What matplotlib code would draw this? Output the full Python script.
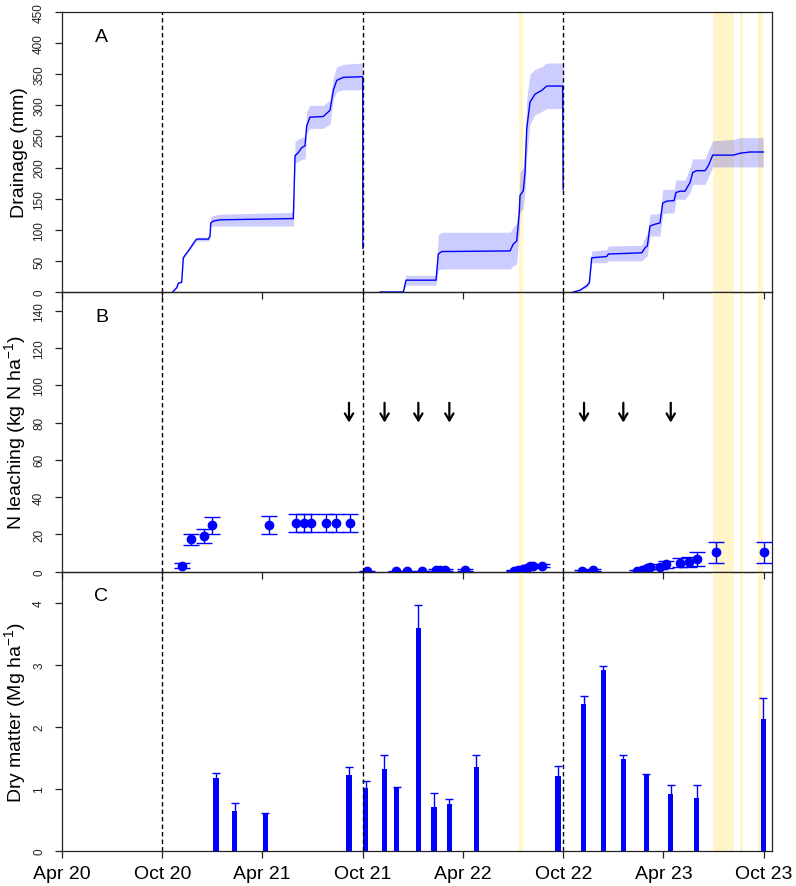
import numpy as np
import matplotlib
matplotlib.use("Agg")
import matplotlib.pyplot as plt
import matplotlib.dates as mdates

plt.rcParams['font.family'] = ['Liberation Sans', 'DejaVu Sans']
plt.rcParams['mathtext.fontset'] = 'custom'
plt.rcParams['mathtext.rm'] = 'Liberation Sans'
plt.rcParams['mathtext.it'] = 'Liberation Sans:italic'
plt.rcParams['mathtext.bf'] = 'Liberation Sans:bold'

# ---------------- data (x values: days since 2020-04-01) ----------------
START = '2020-04-01'

# Panel A: cumulative drainage (mm), mean with lower/upper band, per season
drain1_day = [202, 209.3, 212.2, 218.4, 221.3, 224.4, 230.4, 236.6, 242.6, 245.7, 266.8, 269.9, 271.2,
              275.9, 288.1, 421.5, 424.6, 430.6, 436.7, 442.8, 445.8, 451.8, 476, 488.2, 494.3, 500.4,
              512.5, 547.8, 548]
drain1_mean = [0, 7, 14, 16, 55, 59, 66, 74, 82, 85, 85, 90, 111, 114, 116, 118, 219, 224, 232, 235,
               267, 281, 282, 292, 324, 340, 345, 346, 70]
drain1_lo = [0, 6, 13, 15, 53, 57, 64, 72, 79, 82, 82, 86, 104, 106, 106, 106, 207, 210, 213, 214,
             255, 263, 263, 270, 310, 322, 325, 325, 325]
drain1_hi = [0, 8, 15, 17, 57, 61, 68, 77, 85, 88, 88, 94, 120, 123, 125, 128, 242, 246, 248, 250,
             290, 300, 300, 308, 345, 362, 366, 368, 368]

drain2_day = [579.2, 621.7, 626.6, 681.2, 685.3, 691.5, 815.8, 821.8, 828, 832.7, 834, 840, 843.1,
              846.2, 852.2, 861.3, 873.5, 882.6, 911.7, 912.5]
drain2_mean = [0, 0, 19, 19, 61, 65, 66, 77, 82, 128, 155, 163, 192, 262, 305, 318, 324, 331, 331, 165]
drain2_lo = [0, 0, 11, 11, 35, 37, 37, 42, 45, 100, 128, 135, 160, 220, 270, 285, 290, 295, 295, 295]
drain2_hi = [0, 0, 27, 27, 92, 96, 96, 104, 110, 160, 192, 200, 235, 310, 350, 358, 362, 368, 368, 368]

drain3_day = [931, 943.2, 955.4, 960.1, 964.5, 991.8, 994.7, 1055.5, 1061.5, 1065.7, 1070.6, 1079.7,
              1088.8, 1093.7, 1101, 1114.3, 1117.9, 1125.2, 1134.3, 1143.4, 1148.3, 1155.6, 1170.7,
              1176.7, 1184.7, 1222.2, 1234.3, 1252.5, 1276.8]
drain3_mean = [0, 3, 10, 15, 55, 57, 61, 63, 71, 74, 106, 109, 111, 143, 146, 147, 160, 162, 162, 176,
               192, 195, 195, 203, 220, 220, 223, 225, 225]
drain3_lo = [0, 2, 7, 11, 47, 47, 50, 50, 55, 58, 90, 90, 90, 125, 127, 127, 149, 149, 149, 160, 173,
             173, 173, 185, 201, 201, 201, 201, 201]
drain3_hi = [0, 4, 13, 20, 66, 68, 74, 75, 88, 95, 125, 125, 127, 165, 165, 165, 180, 180, 180, 200,
             214, 214, 214, 228, 243, 245, 248, 248, 248]

# Panel B: cumulative N leaching (kg N/ha) with error
leach_day = [219.5, 235.8, 259, 274, 376.7, 425.8, 441.5, 453.7, 481, 498.6, 524.6,
             556.1, 608.4, 627.8, 655.7, 681.1, 688.4, 697.5, 734.5, 823.1, 830.9, 840, 846.2, 852.2,
             858.2, 874.6,
             946.3, 966.3, 1046.4, 1055.5, 1064.6, 1070.6, 1088.8, 1099.1, 1125.2, 1141.6, 1155.6,
             1190.1, 1278]
leach_val = [3.2, 17.4, 19.2, 24.9, 25.0, 26.0, 26.0, 26.3, 26.0, 26.3, 26.3,
             0.3, 0.3, 0.3, 0.3, 0.7, 0.9, 0.7, 0.8, 0.6, 1.0, 1.5, 2.2, 2.8, 3.0, 3.3,
             0.4, 0.9, 0.5, 0.9, 1.8, 2.3, 2.7, 3.9, 4.8, 5.3, 6.6, 10.3, 10.3]
leach_err = [1.4, 3.0, 3.8, 4.7, 4.8, 4.8, 4.8, 4.8, 4.9, 4.9, 4.9,
             0.3, 0.3, 0.3, 0.3, 0.5, 0.5, 0.5, 0.5, 0.4, 0.5, 0.6, 0.7, 0.7, 0.7, 0.7,
             0.3, 0.4, 0.4, 0.5, 0.6, 0.8, 1.2, 1.8, 2.5, 2.8, 3.8, 5.6, 5.8]

# Arrows (events) in panel B
arrow_day = [522.8, 587.5, 649, 705.4, 950.5, 1022, 1108.3]
arrow_top, arrow_bottom = 90.6, 80

# Panel C: dry matter (Mg/ha) with upper error
dm_day = [280.8, 314.8, 370.5, 522.8, 553.2, 587, 609.6, 648.9, 677.5, 705.3, 754.5, 903.2, 949.9,
          985.6, 1022, 1063.8, 1108.3, 1155.6, 1276.8]
dm_val = [1.17, 0.64, 0.61, 1.22, 1.02, 1.32, 1.02, 3.60, 0.71, 0.76, 1.35, 1.21, 2.37, 2.92, 1.49,
          1.23, 0.92, 0.85, 2.13]
dm_err = [0.08, 0.13, 0.01, 0.13, 0.11, 0.23, 0.01, 0.36, 0.23, 0.08, 0.19, 0.16, 0.13, 0.06, 0.06,
          0.01, 0.15, 0.22, 0.34]

# Shaded (yellow) periods, day ranges
shade_start = [832.7, 1184.6, 1234.3, 1267.1]
shade_end = [838.9, 1223.3, 1239.3, 1276.8]

# Season boundaries (dashed lines)
season_day = [183, 548, 913]

# X ticks
tick_day = [0, 183, 365, 548, 730, 913, 1095, 1278]
tick_labels = ['Apr 20', 'Oct 20', 'Apr 21', 'Oct 21', 'Apr 22', 'Oct 22', 'Apr 23', 'Oct 23']
x_end_day = 1292

# ---------------- plotting ----------------
X0 = mdates.date2num(np.datetime64(START))


def xd(days):
    return X0 + np.asarray(days, dtype=float)


BLUE = '#0000FF'
YELLOW = '#FFF5C8'

fig = plt.figure(figsize=(7.96, 8.87), dpi=100)
W, H = 796.0, 887.0
L, R = 61.7 / W, 771.7 / W


def rect(top, bot):
    return [L, 1 - bot / H, R - L, (bot - top) / H]


axA = fig.add_axes(rect(13, 293))
axB = fig.add_axes(rect(293, 572.7))
axC = fig.add_axes(rect(572.7, 852))
axes = [axA, axB, axC]

for ax in axes:
    ax.patch.set_visible(False)
    ax.set_xlim(xd(0), xd(x_end_day))
    for s0, s1 in zip(shade_start, shade_end):
        ax.axvspan(xd(s0), xd(s1), color=YELLOW, lw=0, zorder=0)
    for d in season_day:
        ax.axvline(xd(d), color='black', lw=1.0, ls=(0, (3.2, 2.2)), zorder=6)
    ax.set_xticks(xd(tick_day))
    ax.tick_params(axis='x', direction='out', length=5, width=0.9, color='#222222')
    ax.tick_params(axis='y', direction='out', length=5, width=0.9, color='#222222',
                   labelsize=8.5, labelcolor='#222222', pad=7)
    for sp in ax.spines.values():
        sp.set_linewidth(0.9)
        sp.set_color('#222222')

axA.set_xticklabels([])
axB.set_xticklabels([])
axC.set_xticklabels(tick_labels, fontsize=14)
axC.tick_params(axis='x', pad=5)

# Panel A
for d, m, lo, hi in [(drain1_day, drain1_mean, drain1_lo, drain1_hi),
                     (drain2_day, drain2_mean, drain2_lo, drain2_hi),
                     (drain3_day, drain3_mean, drain3_lo, drain3_hi)]:
    axA.fill_between(xd(d), lo, hi, color=BLUE, alpha=0.2, lw=0, zorder=2)
    axA.plot(xd(d), m, color=BLUE, lw=1.0, zorder=3)
axA.set_ylim(0, 450)
axA.set_yticks(np.arange(0, 451, 50))
axA.set_ylabel('Drainage (mm)', fontsize=14)

# Panel B
axB.errorbar(xd(leach_day), leach_val, yerr=leach_err, fmt='o', color=BLUE, ms=6,
             elinewidth=1.0, capsize=6, capthick=1.0, zorder=4)
for d in arrow_day:
    axB.annotate('', xy=(xd(d), arrow_bottom), xytext=(xd(d), arrow_top),
                 arrowprops=dict(arrowstyle='->,head_length=0.5,head_width=0.3', color='black',
                                 lw=1.6, shrinkA=0, shrinkB=0), zorder=5)
axB.set_ylim(0, 150)
axB.set_yticks(np.arange(0, 141, 20))
axB.set_ylabel('N leaching (kg N ha$^{-1}$)', fontsize=14)

# Panel C
dm_top = np.array(dm_val) + np.array(dm_err)
axC.bar(xd(dm_day), dm_val, width=9.5, color=BLUE, lw=0, zorder=3)
axC.vlines(xd(dm_day), dm_val, dm_top, color=BLUE, lw=1.0, zorder=3)
axC.plot(xd(dm_day), dm_top, ls='none', marker='_', ms=5.5, mew=1.0, color=BLUE, zorder=3)
axC.set_ylim(0, 4.5)
axC.set_yticks([0, 1, 2, 3, 4])
axC.set_ylabel('Dry matter (Mg ha$^{-1}$)', fontsize=14)

for ax in axes:
    for lab in ax.get_yticklabels():
        lab.set_rotation(90)
        lab.set_va('center')
    ax.yaxis.set_label_coords(-0.047, 0.5)

for ax, letter in zip(axes, ['A', 'B', 'C']):
    ax.text(0.056, 0.913, letter, transform=ax.transAxes, fontsize=14, ha='center', va='center')

fig.savefig('out.png', dpi=100)
